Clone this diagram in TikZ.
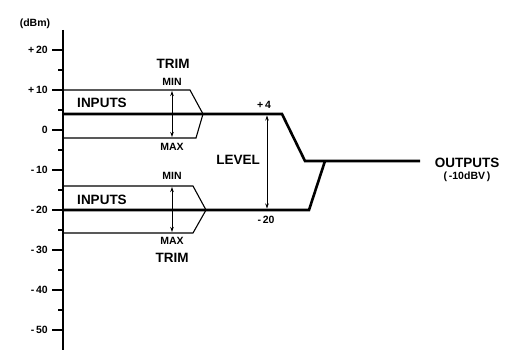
\documentclass[tikz,border=0pt]{standalone}
\usepackage{fontspec}
\setmainfont{Liberation Sans}
\usetikzlibrary{arrows.meta}
\begin{document}
\begin{tikzpicture}[x=1pt,y=-1pt,
  thin line/.style={line width=1.1pt},
  thick line/.style={line width=2.6pt, line join=miter},
  dim arrow/.style={line width=0.9pt, {Stealth[length=5pt,width=3.5pt]}-{Stealth[length=5pt,width=3.5pt]}},
  big/.style={font=\fontsize{13.5}{14}\selectfont\bfseries, inner sep=0pt},
  small/.style={font=\fontsize{10.5}{11}\selectfont\bfseries, inner sep=0pt},
  ticklbl/.style={font=\fontsize{10.5}{11}\selectfont\bfseries, inner sep=0pt, anchor=east}]
\useasboundingbox (0,0) rectangle (510,350);
% axis
\coordinate (axtop) at (63,30);
\coordinate (axbot) at (63,350);
\draw[line width=1.4pt] (axtop) -- (axbot);
\node[small] (unit) at (35,24) {(dBm)};
% ticks
\foreach \v/\lab in {20/+\,20,10/+\,10,0/0,-10/-\,10,-20/-\,20,-30/-\,30,-40/-\,40,-50/-\,50}{
  \draw[line width=1.1pt] (52,130-4*\v) -- (63,130-4*\v);
  \node[ticklbl] at (48,130-4*\v) {\lab};
}
\foreach \v in {15,5,-5,-15,-25,-35,-45}{
  \draw[line width=1.1pt] (58,130-4*\v) -- (63,130-4*\v);
}
% upper input
\coordinate (u0) at (63,114);
\coordinate (ut0) at (63,90);
\coordinate (ut1) at (190,90);
\coordinate (utip) at (203,114);
\coordinate (ub0) at (63,138);
\coordinate (ub1) at (196,138);
\draw[thin line] (ut0) -- (ut1) -- (utip) -- (ub1) -- (ub0);
% lower input
\coordinate (l0) at (63,210);
\coordinate (lt0) at (63,186);
\coordinate (lt1) at (193,186);
\coordinate (ltip) at (206,210);
\coordinate (lb0) at (63,233);
\coordinate (lb1) at (193,233);
\draw[thin line] (lt0) -- (lt1) -- (ltip) -- (lb1) -- (lb0);
% main level paths
\coordinate (u1) at (282,114);
\coordinate (m0) at (305,161);
\coordinate (m1) at (420,161);
\coordinate (l1) at (309,210);
\coordinate (lm) at (325,161);
\draw[thick line] (u0) -- (u1) -- (m0) -- (m1);
\draw[thick line] (l0) -- (l1) -- (lm);
% trim arrows
\coordinate (ta1) at (172,91);
\coordinate (ta2) at (172,137);
\coordinate (tb1) at (172,187);
\coordinate (tb2) at (172,232);
\draw[dim arrow] (ta1) -- (ta2);
\draw[dim arrow] (tb1) -- (tb2);
% level arrow
\coordinate (lv1) at (267,115.5);
\coordinate (lv2) at (267,208.5);
\draw[dim arrow] (lv1) -- (lv2);
% labels
\node[big] (trim1) at (173,64) {TRIM};
\node[small] (min1) at (172,82) {MIN};
\node[small] (max1) at (172,147) {MAX};
\node[small] (min2) at (172,176) {MIN};
\node[small] (max2) at (172,241) {MAX};
\node[big] (trim2) at (172,258) {TRIM};
\node[small] (p4) at (264,105) {+\,4};
\node[small] (m20) at (266,220) {-\,20};
\node[big] (level) at (238,160) {LEVEL};
\node[big] (in1) at (102,103) {INPUTS};
\node[big] (in2) at (102,199.5) {INPUTS};
\node[big] (out) at (467,163) {OUTPUTS};
\node[small] (outsub) at (467,177) {(\,-10dBV\,)};
\end{tikzpicture}
\end{document}
